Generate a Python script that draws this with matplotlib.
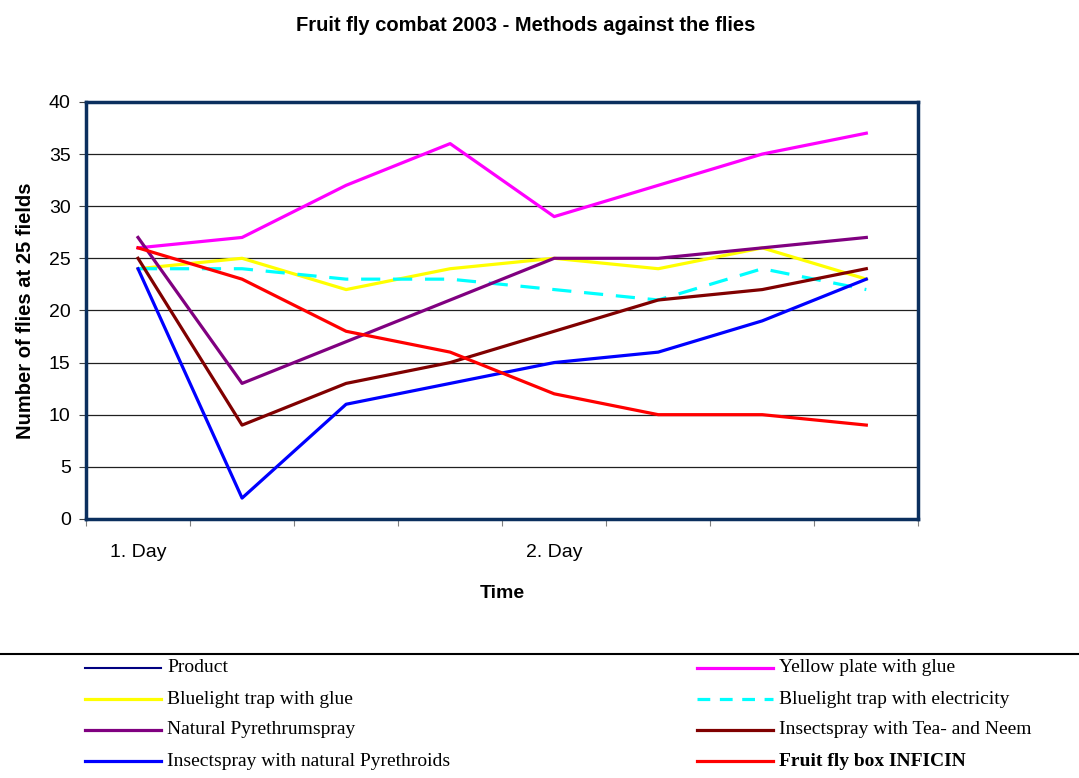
import matplotlib.pyplot as plt
from matplotlib.lines import Line2D

days = ["1. Day", "", "", "", "2. Day", "", "", ""]
yellow_plate = [26, 27, 32, 36, 29, 32, 35, 37]
bluelight_glue = [24, 25, 22, 24, 25, 24, 26, 23]
bluelight_elec = [24, 24, 23, 23, 22, 21, 24, 22]
natural_pyrethrum = [27, 13, 17, 21, 25, 25, 26, 27]
tea_neem = [25, 9, 13, 15, 18, 21, 22, 24]
natural_pyrethroids = [24, 2, 11, 13, 15, 16, 19, 23]
inficin = [26, 23, 18, 16, 12, 10, 10, 9]

fig = plt.figure(figsize=(10.79, 7.78), dpi=100)
ax = fig.add_axes([0.0797, 0.333, 0.7714, 0.536])

x = list(range(len(days)))
lw = 2.3
ax.plot([], [], color="#000080", lw=1.5, label="Product")
ax.plot(x, yellow_plate, color="#FF00FF", lw=lw, label="Yellow plate with glue")
ax.plot(x, bluelight_glue, color="#FFFF00", lw=lw, label="Bluelight trap with glue")
ax.plot(x, bluelight_elec, color="#00FFFF", lw=lw, dashes=(6, 4),
        label="Bluelight trap with electricity")
ax.plot(x, natural_pyrethrum, color="#800080", lw=lw, label="Natural Pyrethrumspray")
ax.plot(x, tea_neem, color="#800000", lw=lw, label="Insectspray with Tea- and Neem")
ax.plot(x, natural_pyrethroids, color="#0000FF", lw=lw,
        label="Insectspray with natural Pyrethroids")
ax.plot(x, inficin, color="#FF0000", lw=lw, label="Fruit fly box INFICIN")

ax.set_xlim(-0.5, len(days) - 0.5)
ax.set_ylim(0, 40)
ax.set_yticks(range(0, 41, 5))
ax.set_yticklabels([str(v) for v in range(0, 41, 5)], fontsize=14, family="Liberation Sans")
ax.set_xticks([i - 0.5 for i in range(len(days) + 1)])
ax.set_xticklabels([])
ax.set_xticks(x, minor=True)
ax.set_xticklabels(days, minor=True, fontsize=14, family="Liberation Sans")
ax.tick_params(axis="x", which="minor", length=0, pad=18)
ax.tick_params(axis="x", which="major", direction="out", length=5, color="#808080")
ax.tick_params(axis="y", direction="out", length=5, color="#404040", pad=6)
ax.yaxis.grid(True, color="#202020", lw=0.9)
ax.set_axisbelow(True)
for s in ax.spines.values():
    s.set_color("#0B2F5E")
    s.set_linewidth(2.5)

ax.set_ylabel("Number of flies at 25 fields", fontsize=14.5, fontweight="bold",
              family="Liberation Sans", labelpad=10)
ax.set_xlabel("Time", fontsize=14, fontweight="bold", family="Liberation Sans", labelpad=17)
fig.text(0.487, 0.967, "Fruit fly combat 2003 - Methods against the flies", ha="center",
         va="center", fontsize=14.5, fontweight="bold", family="Liberation Sans")

# legend below the chart
fig.add_artist(Line2D([0, 1], [1 - 654 / 778] * 2, color="black", lw=1.5))
lines = ax.get_lines()
order = [0, 2, 4, 6, 1, 3, 5, 7]
for k, idx in enumerate(order):
    ln = lines[idx]
    col, row = divmod(k, 4)
    x0 = 85 if col == 0 else 697
    y = 1 - (668 + row * 31) / 778
    fig.add_artist(Line2D([x0 / 1079, (x0 + 76) / 1079], [y, y], color=ln.get_color(),
                          lw=ln.get_linewidth(), linestyle=ln.get_linestyle(),
                          dashes=(4, 3) if idx == 3 else (None, None)))
    fig.text((x0 + 82) / 1079, y, ln.get_label(), va="center", ha="left", fontsize=14,
             family="Liberation Serif",
             fontweight="bold" if idx == 7 else "normal")

fig.savefig("out.png", dpi=100)
